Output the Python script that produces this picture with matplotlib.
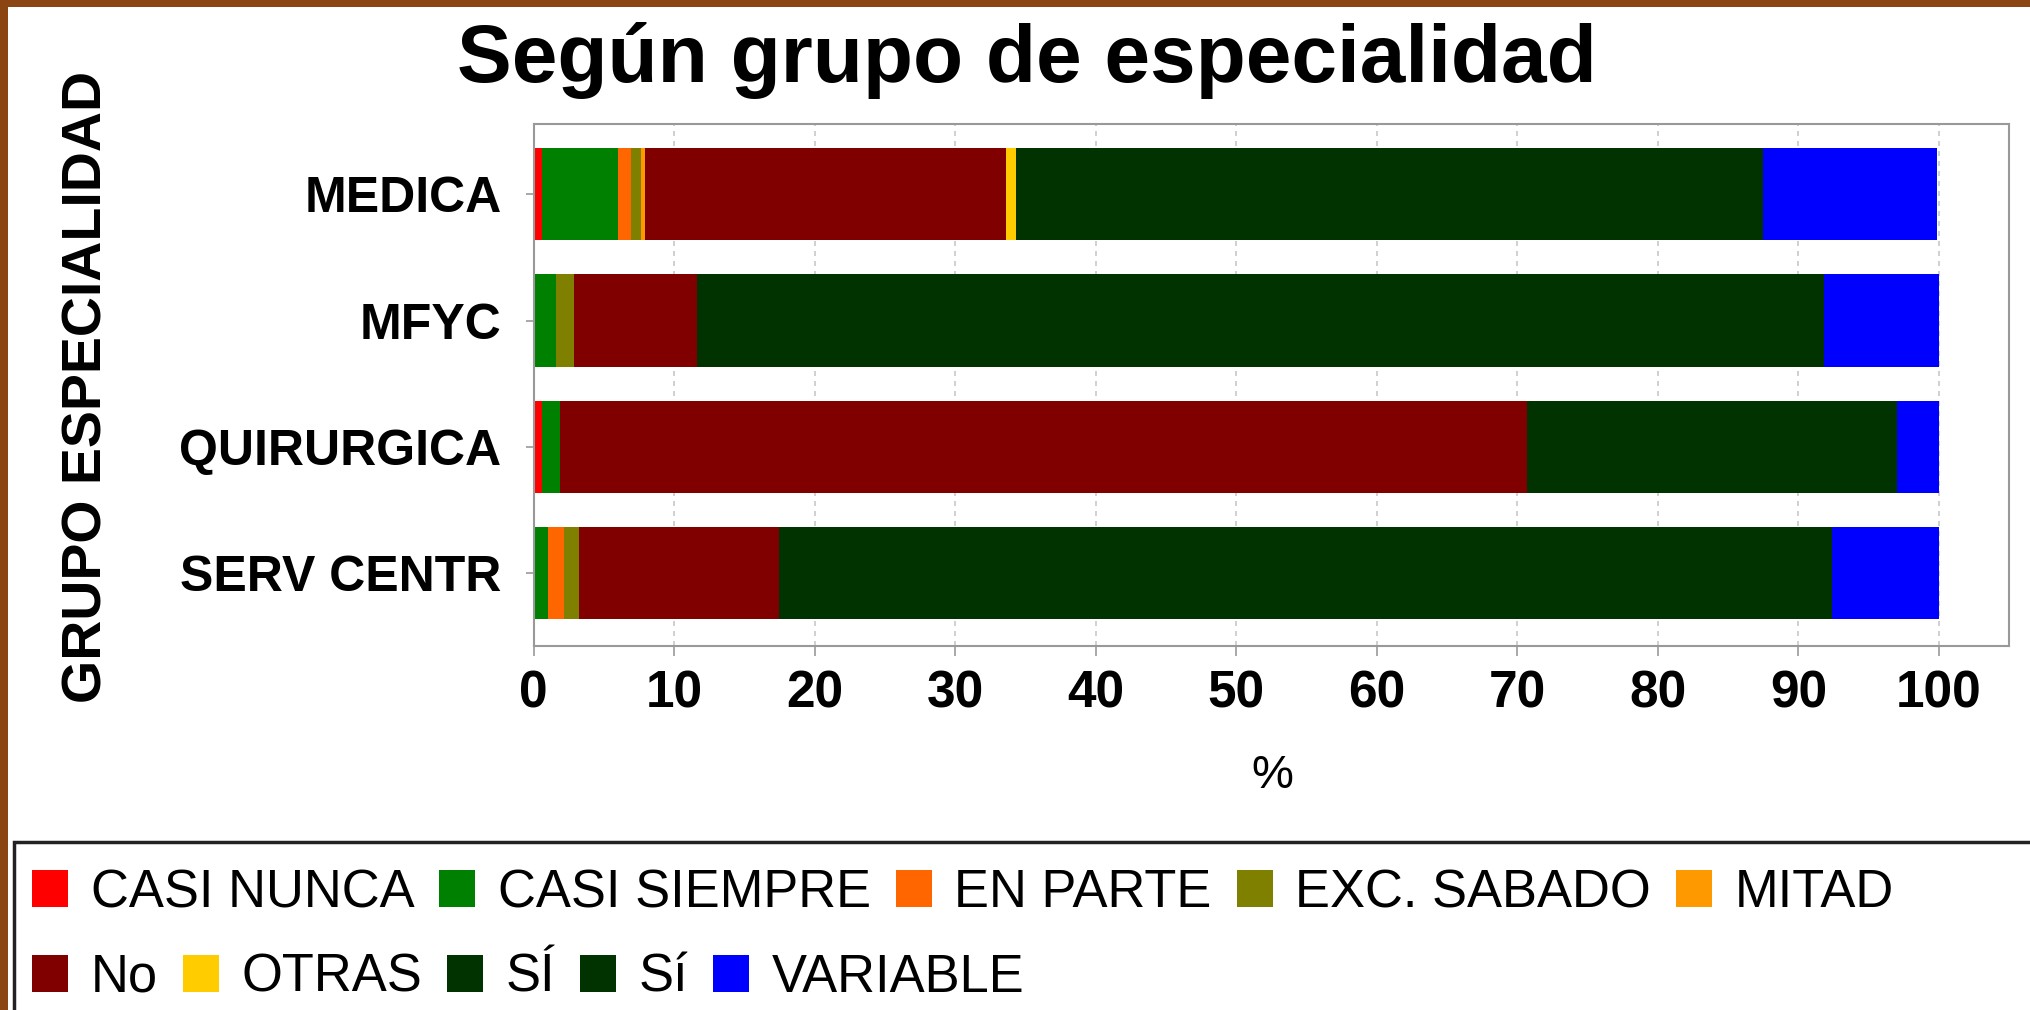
import matplotlib
matplotlib.use("Agg")
import matplotlib.pyplot as plt
from matplotlib.patches import Rectangle
import numpy as np

plt.rcParams['font.family'] = ['Liberation Sans', 'DejaVu Sans']

categories = ["MEDICA", "MFYC", "QUIRURGICA", "SERV CENTR"]
series_names = ["CASI NUNCA", "CASI SIEMPRE", "EN PARTE", "EXC. SABADO", "MITAD",
                "No", "OTRAS", "SÍ", "Sí", "VARIABLE"]
casi_nunca   = [0.6, 0.0, 0.6, 0.0]
casi_siempre = [5.4, 1.6, 1.25, 1.0]
en_parte     = [0.95, 0.0, 0.0, 1.2]
exc_sabado   = [0.7, 1.3, 0.0, 1.05]
mitad        = [0.3, 0.0, 0.0, 0.0]
no           = [25.7, 8.7, 68.85, 14.2]
otras        = [0.7, 0.0, 0.0, 0.0]
si_upper     = [0.5, 0.0, 0.0, 0.0]
si_lower     = [52.6, 80.2, 26.3, 74.95]
variable     = [12.4, 8.2, 3.0, 7.6]
series_values = [casi_nunca, casi_siempre, en_parte, exc_sabado, mitad,
                 no, otras, si_upper, si_lower, variable]
colors = ["#FF0000", "#008000", "#FF6600", "#808000", "#FF9900",
          "#800000", "#FFCC00", "#003300", "#003300", "#0000FF"]
x_ticks = [0, 10, 20, 30, 40, 50, 60, 70, 80, 90, 100]

W, H = 2031, 1010
fig = plt.figure(figsize=(W / 100, H / 100), dpi=100)
fig.patch.set_facecolor("#8B4513")
# white inner panel (brown border on top and left)
fig.patches.append(Rectangle((8 / W, 0), 1, (H - 7) / H, transform=fig.transFigure,
                             facecolor="white", edgecolor="none", zorder=-10))

ax = fig.add_axes([533.5 / W, (H - 646) / H, 1475.8 / W, 522 / H])
ax.set_facecolor("white")

y = np.arange(len(categories))
left = np.zeros(len(categories))
containers = []
for name, vals, col in zip(series_names, series_values, colors):
    v = np.array(vals, dtype=float)
    c = ax.barh(y, v, left=left, height=0.73, color=col, label=name, linewidth=0)
    containers.append(c)
    left += v

ax.set_xlim(0, 105)
ax.set_ylim(3.575, -0.555)
ax.set_xticks(x_ticks)
ax.set_xticklabels([str(t) for t in x_ticks], fontsize=37, fontweight="bold")
ax.set_yticks(y)
ax.set_yticklabels(categories, fontsize=36, fontweight="bold")
ax.tick_params(axis="x", length=7, width=1.2, color="#999999", pad=10)
ax.tick_params(axis="y", length=6, width=1.2, color="#999999", pad=17)
ax.set_axisbelow(True)
ax.grid(axis="x", color="#c8c8c8", linestyle=(0, (3, 3)), linewidth=1.2)
for s in ax.spines.values():
    s.set_color("#999999")
    s.set_linewidth(1.5)

fig.text(1027 / W, (H - 82) / H, "Según grupo de especialidad", fontsize=59,
         fontweight="bold", ha="center", va="baseline")
fig.text(88 / W, (H - 387) / H, "GRUPO ESPECIALIDAD", fontsize=40,
         fontweight="bold", rotation=90, ha="center", va="center")
fig.text(1272 / W, (H - 776) / H, "%", fontsize=34, ha="center", va="center")

# legend box
fig.patches.append(Rectangle((14 / W, -0.05), 1.0, (H - 842) / H + 0.05,
                             transform=fig.transFigure, facecolor="white",
                             edgecolor="#222222", linewidth=2.5, zorder=1))

leg_kw = dict(frameon=False, fontsize=37.8, handlelength=0.69, handleheight=0.69,
              handletextpad=0.43, columnspacing=0.47, borderpad=0, borderaxespad=0,
              loc="center left")
row1 = containers[:5]
row2 = containers[5:]
l1 = fig.legend(row1, series_names[:5], ncol=5,
                bbox_to_anchor=(32 / W, (H - 893) / H), **leg_kw)
l2 = fig.legend(row2, series_names[5:], ncol=5,
                bbox_to_anchor=(32 / W, (H - 978) / H), **leg_kw)
l1.set_zorder(5)
l2.set_zorder(5)

fig.savefig("out.png", dpi=100, facecolor=fig.get_facecolor())
